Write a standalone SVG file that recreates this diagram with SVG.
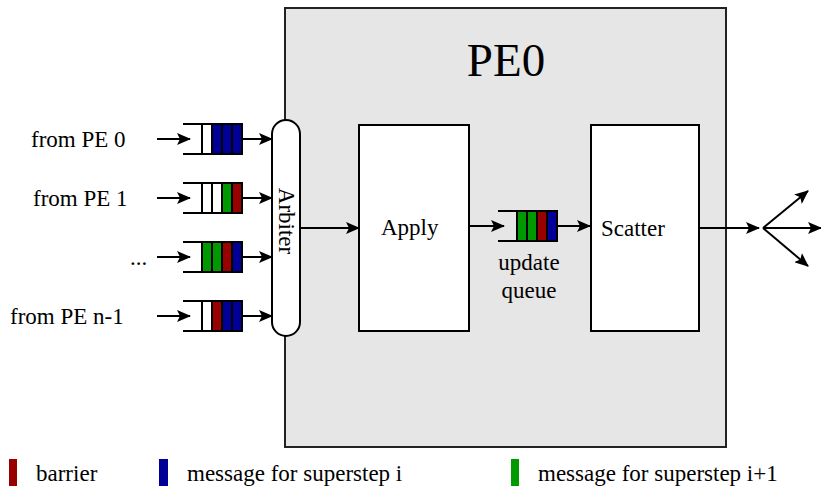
<svg xmlns="http://www.w3.org/2000/svg" width="821" height="486" viewBox="0 0 821 486">
<style>
text{font-family:"Liberation Serif","Times New Roman",serif;fill:#000}
.lbl{font-size:23px}
.ln{stroke:#000;stroke-width:2;fill:none}
.q{stroke:#000;stroke-width:2;fill:none}
.c{stroke:#000;stroke-width:2}
.w{fill:#fff}.r{fill:#990000}.b{fill:#000099}.g{fill:#009900}
.box{fill:#fff;stroke:#000;stroke-width:2}
</style>
<defs>
<marker id="ah" markerUnits="userSpaceOnUse" markerWidth="14" markerHeight="12" viewBox="0 0 14 12" refX="13" refY="6" orient="auto">
<path d="M0,0 L14,6 L0,12 L3,6 z" fill="#000"/>
</marker>
</defs>
<g id="pe0">
<rect x="285" y="8" width="441" height="439" fill="#e6e6e6" stroke="#222" stroke-width="2"/>
<text x="506" y="76" font-size="47" text-anchor="middle">PE0</text>
</g>
<g id="apply">
<rect class="box" x="359" y="125" width="110" height="206"/>
<text class="lbl" x="381" y="235">Apply</text>
</g>
<g id="scatter">
<rect class="box" x="591" y="125" width="108" height="206"/>
<text class="lbl" x="601" y="236">Scatter</text>
</g>
<g id="arbiter">
<rect class="box" x="272" y="120" width="28" height="216" rx="14" ry="14"/>
<text class="lbl" transform="translate(279,221) rotate(90)" text-anchor="middle">Arbiter</text>
</g>
<g id="labels">
<text class="lbl" x="31" y="147">from PE 0</text>
<text class="lbl" x="33" y="206">from PE 1</text>
<text class="lbl" x="130" y="265">...</text>
<text class="lbl" x="10" y="324">from PE n-1</text>
</g>
<g id="queue0">
<rect class="c w" x="202" y="124" width="10" height="30"/>
<rect class="c b" x="212" y="124" width="10" height="30"/>
<rect class="c b" x="222" y="124" width="10" height="30"/>
<rect class="c b" x="232" y="124" width="10" height="30"/>
<path class="q" d="M183,124 H242 V154 H183"/>
</g>
<g id="queue1">
<rect class="c w" x="202" y="183" width="10" height="30"/>
<rect class="c w" x="212" y="183" width="10" height="30"/>
<rect class="c g" x="222" y="183" width="10" height="30"/>
<rect class="c r" x="232" y="183" width="10" height="30"/>
<path class="q" d="M183,183 H242 V213 H183"/>
</g>
<g id="queue2">
<rect class="c g" x="202" y="242" width="10" height="30"/>
<rect class="c g" x="212" y="242" width="10" height="30"/>
<rect class="c r" x="222" y="242" width="10" height="30"/>
<rect class="c b" x="232" y="242" width="10" height="30"/>
<path class="q" d="M183,242 H242 V272 H183"/>
</g>
<g id="queue3">
<rect class="c w" x="202" y="301" width="10" height="30"/>
<rect class="c r" x="212" y="301" width="10" height="30"/>
<rect class="c b" x="222" y="301" width="10" height="30"/>
<rect class="c b" x="232" y="301" width="10" height="30"/>
<path class="q" d="M183,301 H242 V331 H183"/>
</g>
<g id="update-queue">
<rect class="c g" x="517" y="211" width="10" height="30"/>
<rect class="c g" x="527" y="211" width="10" height="30"/>
<rect class="c r" x="537" y="211" width="10" height="30"/>
<rect class="c b" x="547" y="211" width="10" height="30"/>
<path class="q" d="M498,211 H557 V241 H498"/>
<text class="lbl" x="529" y="270" text-anchor="middle">update</text>
<text class="lbl" x="529" y="298" text-anchor="middle">queue</text>
</g>
<g id="connectors">
<line class="ln" x1="157" y1="139" x2="190" y2="139" marker-end="url(#ah)"/>
<line class="ln" x1="157" y1="198" x2="190" y2="198" marker-end="url(#ah)"/>
<line class="ln" x1="157" y1="257" x2="190" y2="257" marker-end="url(#ah)"/>
<line class="ln" x1="157" y1="316" x2="190" y2="316" marker-end="url(#ah)"/>
<line class="ln" x1="242" y1="139" x2="272" y2="139" marker-end="url(#ah)"/>
<line class="ln" x1="242" y1="198" x2="272" y2="198" marker-end="url(#ah)"/>
<line class="ln" x1="242" y1="257" x2="272" y2="257" marker-end="url(#ah)"/>
<line class="ln" x1="242" y1="316" x2="272" y2="316" marker-end="url(#ah)"/>
<line class="ln" x1="300" y1="228" x2="359" y2="228" marker-end="url(#ah)"/>
<line class="ln" x1="469" y1="226" x2="504" y2="226" marker-end="url(#ah)"/>
<line class="ln" x1="557" y1="226" x2="590" y2="226" marker-end="url(#ah)"/>
<line class="ln" x1="699" y1="228" x2="759" y2="228" marker-end="url(#ah)"/>
<line class="ln" x1="763" y1="228" x2="808" y2="191" marker-end="url(#ah)"/>
<line class="ln" x1="763" y1="228" x2="821" y2="228" marker-end="url(#ah)"/>
<line class="ln" x1="763" y1="228" x2="808" y2="266" marker-end="url(#ah)"/>
</g>
<g id="legend">
<rect class="r" x="9" y="459" width="8" height="27"/>
<text class="lbl" x="36" y="481">barrier</text>
<rect class="b" x="159" y="459" width="9" height="27"/>
<text class="lbl" x="187" y="481">message for superstep i</text>
<rect class="g" x="511" y="459" width="8" height="27"/>
<text class="lbl" x="538" y="481">message for superstep i+1</text>
</g>
</svg>
